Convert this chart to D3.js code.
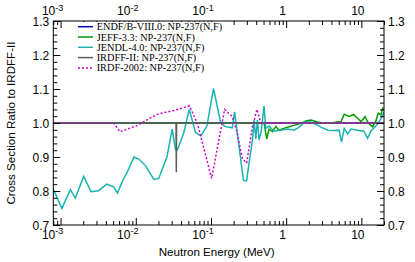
<!DOCTYPE html>
<html>
<head>
<meta charset="utf-8">
<script src="https://cdn.jsdelivr.net/npm/d3@7"></script>
<style>
body { margin: 0; background: #fff; }
</style>
</head>
<body>
<div id="chart"></div>
<script>
// ratio data (energy in MeV)
var endfE = [8e-4, 20];
var endfR = [1, 1];

var jeffE = [8e-4, 0.488, 0.508, 0.552, 0.592, 0.658, 0.728, 0.805, 1.01, 1.27, 1.57, 1.82, 2.13, 2.61, 3.17, 3.93,
  4.83, 5.35, 5.92, 6.89, 7.89, 8.92, 9.89, 11.2, 12.4, 14.1, 15.6, 16.8, 18.2, 19.2, 20];
var jeffR = [1, 1, 1.001, 0.953, 0.982, 0.975, 0.990, 0.979, 0.987, 0.993, 0.999, 1.006, 1.009, 1.003, 0.999, 0.999,
  1.004, 1.003, 1.026, 1.019, 1.025, 1.014, 1.004, 1.019, 0.999, 0.989, 1.006, 1.029, 1.024, 1.043, 1.038];

var jendlE = [8.0e-4, 1.04e-3, 1.35e-3, 1.57e-3, 2.03e-3, 2.54e-3, 3.21e-3, 4.10e-3, 5.08e-3, 5.70e-3, 6.75e-3,
  7.87e-3, 9.46e-3, 1.10e-2, 1.35e-2, 1.74e-2, 2.02e-2, 2.59e-2, 3.05e-2, 3.38e-2, 3.59e-2, 4.36e-2, 5.14e-2,
  6.24e-2, 7.34e-2, 8.83e-2, 0.108, 0.133, 0.152, 0.192, 0.206, 0.223, 0.270, 0.298, 0.318, 0.356, 0.374, 0.394,
  0.415, 0.436, 0.466, 0.508, 0.535, 0.592, 0.690, 0.848, 1.04, 1.27, 1.49, 1.77, 2.13, 2.48, 2.89, 3.59, 4.35,
  5.07, 5.43, 5.92, 6.56, 7.26, 8.92, 10.8, 12.1, 13.4, 15.6, 18.2, 20];
var jendlR = [0.806, 0.749, 0.804, 0.779, 0.843, 0.798, 0.801, 0.820, 0.812, 0.794, 0.832,
  0.860, 0.900, 0.894, 0.874, 0.834, 0.837, 0.899, 0.982, 0.921, 0.921, 0.972, 1.040,
  0.972, 0.962, 0.991, 1.102, 1.006, 0.990, 0.986, 1.033, 0.974, 0.832, 0.830, 0.876, 0.950, 1.009, 0.953,
  1.009, 0.950, 0.976, 1.050, 0.984, 0.991, 0.976, 0.979, 0.982, 0.979, 0.988, 1.003, 1.003, 0.996, 0.988, 0.979, 0.978,
  0.979, 0.944, 0.984, 0.968, 0.982, 0.979, 0.976, 0.955, 0.976, 0.991, 1.012, 1.032];

var irdffE = [8e-4, 0.0343, 0.0346, 0.0349, 20];
var irdffR = [1, 1, 0.855, 1, 1];

var irdfE = [8e-4, 5.08e-3, 6.15e-3, 1.05e-2, 1.35e-2, 1.95e-2, 3.21e-2, 5.19e-2, 6.63e-2, 0.102, 0.152, 0.192,
  0.223, 0.260, 0.298, 0.356, 0.409, 0.459, 20];
var irdfR = [1, 1, 0.974, 0.993, 1.007, 1.026, 1.037, 1.050, 0.997, 0.837, 1.040, 1.019,
  0.971, 0.897, 0.882, 0.989, 1.040, 1.0, 1.0];

var seriesNames = ["ENDF/B-VIII.0: NP-237(N,F)", "JEFF-3.3: NP-237(N,F)", "JENDL-4.0: NP-237(N,F)",
  "IRDFF-II: NP-237(N,F)", "IRDF-2002: NP-237(N,F)"];

var xMajor = [1e-3, 1e-2, 1e-1, 1, 10];
var xLabels = [["10", "-3"], ["10", "-2"], ["10", "-1"], ["1", ""], ["10", ""]];
var yMajor = [0.7, 0.8, 0.9, 1.0, 1.1, 1.2, 1.3];

var W = 415, H = 262;
var pLeft = 53.3, pRight = 384, pTop = 21, pBottom = 225;
var sans = "Liberation Sans, Arial, sans-serif";

var svg = d3.select("#chart").append("svg").attr("width", W).attr("height", H);

var x = d3.scaleLog().domain([8e-4, 20]).range([pLeft, pRight]);
var y = d3.scaleLinear().domain([0.7, 1.3]).range([pBottom, pTop]);

var series = [
  {E: endfE, R: endfR, color: "#0000b0", dash: null},
  {E: jeffE, R: jeffR, color: "#009a00", dash: null},
  {E: jendlE, R: jendlR, color: "#1ab3b3", dash: null},
  {E: irdffE, R: irdffR, color: "#5a5e5a", dash: null},
  {E: irdfE, R: irdfR, color: "#cc00cc", dash: "2,2"}
];

svg.append("clipPath").attr("id", "clip").append("rect")
  .attr("x", pLeft).attr("y", pTop).attr("width", pRight - pLeft).attr("height", pBottom - pTop);

var line = d3.line().x(function(d) { return x(d[0]); }).y(function(d) { return y(d[1]); });

var plot = svg.append("g").attr("clip-path", "url(#clip)");
series.forEach(function(s) {
  var pts = s.E.map(function(e, i) { return [e, s.R[i]]; });
  plot.append("path").datum(pts)
    .attr("d", line)
    .attr("fill", "none")
    .attr("stroke", s.color)
    .attr("stroke-width", 1.5)
    .attr("stroke-dasharray", s.dash);
});

// minor x ticks 2..9 per decade
var xMinor = [];
for (var p = -4; p <= 1; p++) {
  for (var m = 2; m <= 9; m++) {
    var v = m * Math.pow(10, p);
    if (v >= 8e-4 && v <= 20) xMinor.push(v);
  }
}
var yMinor = d3.range(0.72, 1.3, 0.02).filter(function(v) { return Math.abs(v * 10 - Math.round(v * 10)) > 0.01; });

function strip(g) { g.select(".domain").remove(); g.selectAll("text").remove(); }

svg.append("g").attr("transform", "translate(0," + pBottom + ")")
  .call(d3.axisBottom(x).tickValues(xMajor).tickSize(-7).tickFormat("")).call(strip);
svg.append("g").attr("transform", "translate(0," + pBottom + ")")
  .call(d3.axisBottom(x).tickValues(xMinor).tickSize(-4).tickFormat("")).call(strip);
svg.append("g").attr("transform", "translate(0," + pTop + ")")
  .call(d3.axisTop(x).tickValues(xMajor).tickSize(-7).tickFormat("")).call(strip);
svg.append("g").attr("transform", "translate(0," + pTop + ")")
  .call(d3.axisTop(x).tickValues(xMinor).tickSize(-4).tickFormat("")).call(strip);
svg.append("g").attr("transform", "translate(" + pLeft + ",0)")
  .call(d3.axisLeft(y).tickValues(yMajor).tickSize(-7).tickFormat("")).call(strip);
svg.append("g").attr("transform", "translate(" + pLeft + ",0)")
  .call(d3.axisLeft(y).tickValues(yMinor).tickSize(-4).tickFormat("")).call(strip);
svg.append("g").attr("transform", "translate(" + pRight + ",0)")
  .call(d3.axisRight(y).tickValues(yMajor).tickSize(-7).tickFormat("")).call(strip);
svg.append("g").attr("transform", "translate(" + pRight + ",0)")
  .call(d3.axisRight(y).tickValues(yMinor).tickSize(-4).tickFormat("")).call(strip);

svg.selectAll(".tick line").attr("stroke", "#000").attr("stroke-width", 1);

// legend sits on a white patch that hides the ticks behind it
var leg = svg.append("g");
leg.append("rect").attr("x", 74).attr("y", 22).attr("width", 152).attr("height", 51).attr("fill", "#fff");
seriesNames.forEach(function(name, i) {
  var ly = 26.7 + i * 10.3;
  leg.append("line").attr("x1", 78).attr("x2", 93).attr("y1", ly).attr("y2", ly)
    .attr("stroke", series[i].color).attr("stroke-width", 1.5)
    .attr("stroke-dasharray", series[i].dash);
  leg.append("text").attr("x", 96.7).attr("y", ly + 3.5)
    .style("font-family", "Liberation Serif, Times New Roman, serif")
    .style("font-size", "10.3px").text(name);
});

svg.append("rect").attr("x", pLeft).attr("y", pTop).attr("width", pRight - pLeft).attr("height", pBottom - pTop)
  .attr("fill", "none").attr("stroke", "#000").attr("stroke-width", 1);

// x tick labels, bottom and top
[pBottom + 13.5, pTop - 6].forEach(function(ty) {
  xMajor.forEach(function(v, i) {
    var lab = xLabels[i];
    var off = lab[1] ? -8 : -3.5;
    var t = svg.append("text")
      .attr("x", x(v) + off).attr("y", ty)
      .attr("text-anchor", "middle")
      .style("font-family", sans).style("font-size", "12px");
    t.append("tspan").text(lab[0]);
    if (lab[1]) t.append("tspan").attr("dy", -4.5).style("font-size", "9px").text(lab[1]);
  });
});

yMajor.forEach(function(v) {
  svg.append("text").attr("x", pLeft - 4).attr("y", y(v) + 4.5)
    .attr("text-anchor", "end").style("font-family", sans).style("font-size", "12px")
    .text(d3.format(".1f")(v));
  svg.append("text").attr("x", pRight + 4).attr("y", y(v) + 4.5)
    .attr("text-anchor", "start").style("font-family", sans).style("font-size", "12px")
    .text(d3.format(".1f")(v));
});

svg.append("text").attr("x", (pLeft + pRight) / 2 - 2).attr("y", 256)
  .attr("text-anchor", "middle").style("font-family", sans).style("font-size", "11.6px")
  .text("Neutron Energy (MeV)");
svg.append("text").attr("transform", "translate(15," + ((pTop + pBottom) / 2) + ") rotate(-90)")
  .attr("text-anchor", "middle").style("font-family", sans).style("font-size", "11.6px")
  .text("Cross Section Ratio to IRDFF-II");
</script>
</body>
</html>
